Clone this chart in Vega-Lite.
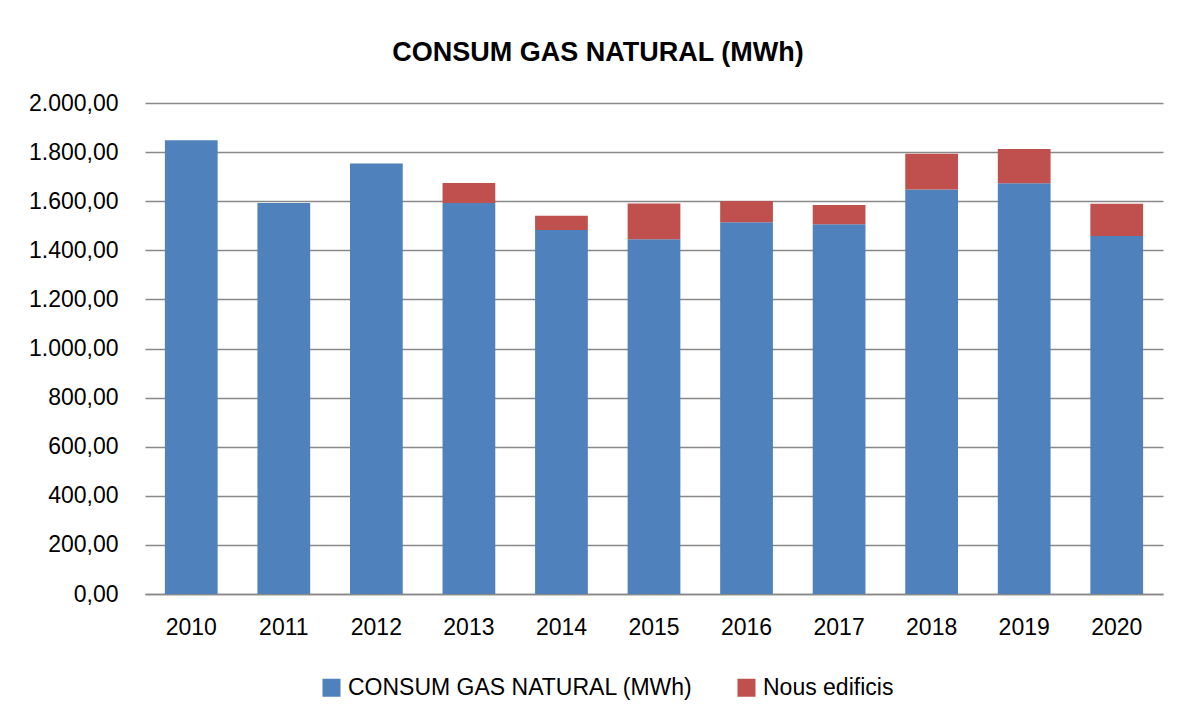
{
  "$schema": "https://vega.github.io/schema/vega-lite/v6.json",
  "autosize": "none",
  "width": 1018,
  "height": 491,
  "padding": {"left": 145, "top": 103, "right": 26, "bottom": 124},
  "background": "white",
  "config": {
    "locale": {"number": {"decimal": ",", "thousands": ".", "grouping": [3], "currency": ["", " €"]}},
    "font": "Liberation Sans",
    "view": {"stroke": null}
  },
  "title": {
    "text": "CONSUM GAS NATURAL (MWh)",
    "fontSize": 27,
    "fontWeight": "bold",
    "color": "#000000",
    "anchor": "middle",
    "dx": -56,
    "offset": 25
  },
  "data": {
    "values": [
      {"year": "2010", "serie": "CONSUM GAS NATURAL (MWh)", "ord": 1, "value": 1848},
      {"year": "2011", "serie": "CONSUM GAS NATURAL (MWh)", "ord": 1, "value": 1593},
      {"year": "2012", "serie": "CONSUM GAS NATURAL (MWh)", "ord": 1, "value": 1754},
      {"year": "2013", "serie": "CONSUM GAS NATURAL (MWh)", "ord": 1, "value": 1593},
      {"year": "2014", "serie": "CONSUM GAS NATURAL (MWh)", "ord": 1, "value": 1483},
      {"year": "2015", "serie": "CONSUM GAS NATURAL (MWh)", "ord": 1, "value": 1445},
      {"year": "2016", "serie": "CONSUM GAS NATURAL (MWh)", "ord": 1, "value": 1514},
      {"year": "2017", "serie": "CONSUM GAS NATURAL (MWh)", "ord": 1, "value": 1506},
      {"year": "2018", "serie": "CONSUM GAS NATURAL (MWh)", "ord": 1, "value": 1648},
      {"year": "2019", "serie": "CONSUM GAS NATURAL (MWh)", "ord": 1, "value": 1673},
      {"year": "2020", "serie": "CONSUM GAS NATURAL (MWh)", "ord": 1, "value": 1458},
      {"year": "2013", "serie": "Nous edificis", "ord": 2, "value": 81},
      {"year": "2014", "serie": "Nous edificis", "ord": 2, "value": 58},
      {"year": "2015", "serie": "Nous edificis", "ord": 2, "value": 146},
      {"year": "2016", "serie": "Nous edificis", "ord": 2, "value": 87},
      {"year": "2017", "serie": "Nous edificis", "ord": 2, "value": 79},
      {"year": "2018", "serie": "Nous edificis", "ord": 2, "value": 145},
      {"year": "2019", "serie": "Nous edificis", "ord": 2, "value": 140},
      {"year": "2020", "serie": "Nous edificis", "ord": 2, "value": 132}
    ]
  },
  "mark": {"type": "bar"},
  "encoding": {
    "x": {
      "field": "year",
      "type": "ordinal",
      "title": null,
      "scale": {"paddingInner": 0.43, "paddingOuter": 0.215},
      "axis": {
        "labelAngle": 0,
        "labelFontSize": 23,
        "labelColor": "#000000",
        "labelPadding": 22,
        "ticks": false,
        "domainColor": "#898989",
        "domainWidth": 1.5
      }
    },
    "y": {
      "field": "value",
      "type": "quantitative",
      "title": null,
      "stack": "zero",
      "scale": {"domain": [0, 2000], "nice": false},
      "axis": {
        "values": [0, 200, 400, 600, 800, 1000, 1200, 1400, 1600, 1800, 2000],
        "format": ",.2f",
        "labelFontSize": 23,
        "labelColor": "#000000",
        "labelPadding": 27,
        "ticks": false,
        "domain": false,
        "gridColor": "#898989",
        "gridWidth": 1.5
      }
    },
    "color": {
      "field": "serie",
      "type": "nominal",
      "scale": {"domain": ["CONSUM GAS NATURAL (MWh)", "Nous edificis"], "range": ["#4F81BD", "#C0504D"]},
      "legend": {
        "title": null,
        "orient": "none",
        "direction": "horizontal",
        "legendX": 175,
        "legendY": 573,
        "symbolType": "square",
        "symbolSize": 324,
        "symbolStrokeWidth": 0,
        "labelFontSize": 23,
        "labelLimit": 0,
        "labelColor": "#000000",
        "labelOffset": 5,
        "columnPadding": 42
      }
    },
    "order": {"field": "ord", "type": "quantitative"}
  }
}
